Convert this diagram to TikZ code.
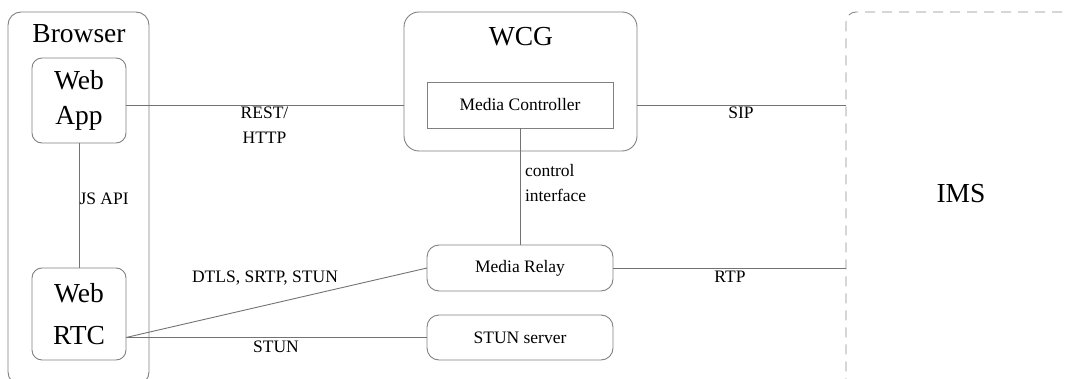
\documentclass[tikz,border=0pt]{standalone}
\usepackage{fontspec}
\setmainfont{Liberation Serif}
\begin{document}
\begin{tikzpicture}[x=1pt,y=-1pt,
  every node/.style={inner sep=0pt,outer sep=0pt},
  frame/.style={draw=black!50,line width=0.9pt},
  box/.style={frame,rounded corners=#1},
  box/.default=11pt,
  bigtxt/.style={font=\fontsize{27.5}{35}\selectfont},
  smalltxt/.style={font=\fontsize{17.5}{20}\selectfont},
  link/.style={draw=black!55,line width=0.9pt},
]
\useasboundingbox (0,0) rectangle (1067,379);
\clip (0,0) rectangle (1067,379);

% containers
\node[box=13pt,minimum width=141pt,minimum height=373pt] (browser) at (78.5,198.5) {};
\node[box=15pt,minimum width=233pt,minimum height=139pt] (wcg) at (520.5,81.5) {};
\node[frame,draw=black!45,dashed,dash pattern=on 10pt off 7pt,rounded corners=10pt,
      minimum width=260pt,minimum height=388pt] (ims) at (976,206) {};

% titles
\node[bigtxt,anchor=base] (browsertitle) at (79,43) {Browser};
\node[bigtxt,anchor=base] (wcgtitle) at (521,46) {WCG};
\node[bigtxt,anchor=base] (imstitle) at (961,203) {IMS};

% components
\node[box=10pt,minimum width=94pt,minimum height=85pt,align=center,
      font=\fontsize{27.5}{35}\selectfont] (webapp) at (79,100.5) {Web\\App};
\node[box=10pt,minimum width=94pt,minimum height=92pt,align=center,
      font=\fontsize{27.5}{42}\selectfont] (webrtc) at (79,314) {Web\\RTC};
\node[frame,minimum width=186pt,minimum height=46pt,smalltxt] (mc) at (520,105) {Media Controller};
\node[box=12pt,minimum width=186pt,minimum height=46pt,smalltxt] (relay) at (520,268) {Media Relay};
\node[box=12pt,minimum width=186pt,minimum height=45pt,smalltxt] (stun) at (520,337.5) {STUN server};

% connectors
\coordinate (rtcout) at (stun.west -| webrtc.east);
\draw[link] (webapp.south) -- (webrtc.north);
\draw[link] (webapp.east |- mc.center) -- (wcg.west |- mc.center);
\draw[link] (wcg.east |- mc.center) -- (ims.west |- mc.center);
\draw[link] (mc.south) -- (relay.north);
\draw[link] (relay.east) -- (ims.west |- relay.east);
\draw[link] (rtcout) -- (relay.west);
\draw[link] (rtcout) -- (stun.west);

% connector labels
\node[smalltxt,anchor=base west] (jsapi) at (79.5,205) {JS API};
\node[smalltxt,anchor=base] (rest) at (264.5,119) {REST/};
\node[smalltxt,anchor=base] (http) at (264.5,144) {HTTP};
\node[smalltxt,anchor=base] (sip) at (741,119) {SIP};
\node[smalltxt,anchor=base west] (ctrl) at (525,177) {control};
\node[smalltxt,anchor=base west] (iface) at (525,202) {interface};
\node[smalltxt,anchor=base] (rtp) at (730,282) {RTP};
\node[smalltxt,anchor=base] (dtls) at (265,282) {DTLS, SRTP, STUN};
\node[smalltxt,anchor=base] (stunlbl) at (276,352) {STUN};
\end{tikzpicture}
\end{document}
